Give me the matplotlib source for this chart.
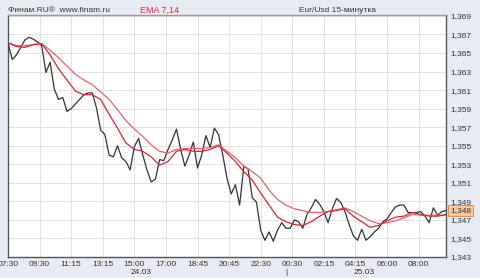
import matplotlib
matplotlib.use("Agg")
import matplotlib.pyplot as plt

OUT_PNG = "out.png"

# close prices, one per 15-minute bar starting 07:30 24.03
close = [
    1.3661, 1.3643, 1.3648, 1.3656, 1.3664, 1.3667, 1.3665, 1.3662, 1.3658, 1.3629,
    1.3640, 1.3611, 1.3600, 1.3602, 1.3587, 1.3590, 1.3595, 1.3600, 1.3605, 1.3607,
    1.3607, 1.3591, 1.3567, 1.3562, 1.3540, 1.3538, 1.3550, 1.3537, 1.3533, 1.3524,
    1.3549, 1.3558, 1.3540, 1.3524, 1.3511, 1.3514, 1.3535, 1.3534, 1.3546, 1.3556,
    1.3568, 1.3546, 1.3528, 1.3540, 1.3554, 1.3526, 1.3540, 1.3561, 1.3548, 1.3569,
    1.3562, 1.3540, 1.3515, 1.3498, 1.3508, 1.3486, 1.3528, 1.3525, 1.3494, 1.3489,
    1.3459, 1.3448, 1.3457, 1.3447, 1.3459, 1.3467, 1.3461, 1.3461, 1.3470, 1.3468,
    1.3461, 1.3476, 1.3483, 1.3492, 1.3487, 1.3479, 1.3467, 1.3482, 1.3493, 1.3489,
    1.3479, 1.3465, 1.3453, 1.3448, 1.3460, 1.3448, 1.3452, 1.3457, 1.3461, 1.3468,
    1.3471, 1.3478, 1.3484, 1.3486, 1.3486, 1.3478, 1.3478, 1.3478, 1.3479, 1.3474,
    1.3467, 1.3483, 1.3475, 1.3479, 1.3480,
]

# moving averages read every 2 bars
ema_idx = list(range(0, 105, 2))
ema7 = [1.3661, 1.3657, 1.3656, 1.3659, 1.3660, 1.3648, 1.3633, 1.3621, 1.3609,
        1.3605, 1.3605, 1.3600, 1.3584, 1.3569, 1.3553, 1.3546, 1.3544, 1.3538,
        1.3529, 1.3533, 1.3544, 1.3546, 1.3544, 1.3544, 1.3546, 1.3550, 1.3542,
        1.3533, 1.3522, 1.3513, 1.3499, 1.3486, 1.3473, 1.3468, 1.3465, 1.3464,
        1.3468, 1.3474, 1.3479, 1.3480, 1.3482, 1.3474, 1.3468, 1.3462, 1.3464,
        1.3469, 1.3473, 1.3474, 1.3478, 1.3476, 1.3474, 1.3474, 1.3476]
ema14 = [1.3661, 1.3658, 1.3658, 1.3659, 1.3660, 1.3653, 1.3645, 1.3636, 1.3627,
         1.3621, 1.3616, 1.3608, 1.3600, 1.3589, 1.3577, 1.3568, 1.3560, 1.3551,
         1.3544, 1.3542, 1.3546, 1.3547, 1.3547, 1.3547, 1.3548, 1.3551, 1.3544,
         1.3537, 1.3528, 1.3522, 1.3515, 1.3502, 1.3492, 1.3486, 1.3482, 1.3480,
         1.3478, 1.3478, 1.3479, 1.3481, 1.3483, 1.3479, 1.3474, 1.3469, 1.3466,
         1.3467, 1.3469, 1.3472, 1.3476, 1.3475, 1.3475, 1.3475, 1.3475]

time_labels = ["07:30", "09:30", "11:15", "13:15", "15:00", "17:00", "18:45",
               "20:45", "22:30", "00:30", "02:15", "04:15", "06:00", "08:00"]
time_ticks = [7.5 * i for i in range(len(time_labels))]
price_ticks = [1.343 + 0.002 * i for i in range(14)]
dates = [("24.03", 31.5), ("25.03", 84.5)]
midnight = 66
last_price = close[-1]

BG = "#e8ebf3"

fig = plt.figure(figsize=(4.8, 2.78), dpi=100, facecolor=BG)
plt.rcParams["font.family"] = ["Liberation Sans", "DejaVu Sans"]
ax = fig.add_axes([8 / 480, 21 / 278, 438 / 480, 242 / 278])
ax.set_facecolor("white")

ax.plot(range(len(close)), close, color="#333333", lw=0.9, zorder=3)
ax.plot(ema_idx, ema14, color="#e8606e", lw=0.9, zorder=4)
ax.plot(ema_idx, ema7, color="#dd2430", lw=0.9, zorder=4)

ax.set_xlim(0, 104)
ax.set_ylim(1.343, 1.3691)
ax.set_xticks(time_ticks)
ax.set_xticklabels(time_labels, fontsize=6, color="#333333")
ax.set_yticks(price_ticks)
ax.set_yticklabels([f"{v:.3f}".replace(".", ",") for v in price_ticks],
                   fontsize=6, color="#333333")
ax.yaxis.tick_right()
ax.tick_params(axis="both", length=0, pad=3)
ax.grid(True, color="#e2e2e2", lw=0.7, zorder=0)

for side in ["left", "right", "bottom", "top"]:
    ax.spines[side].set_color("#555555")
    ax.spines[side].set_linewidth(1.0)
ax.spines["top"].set_color("#999999")

for label, pos in dates:
    ax.annotate(label, xy=(pos, 0), xycoords=("data", "axes fraction"),
                xytext=(0, -11.5), textcoords="offset points",
                ha="center", va="center", fontsize=6, color="#333333")
ax.annotate("|", xy=(midnight, 0), xycoords=("data", "axes fraction"),
            xytext=(0, -11.5), textcoords="offset points",
            ha="center", va="center", fontsize=6, color="#333333")

ax.annotate(f"{last_price:.3f}".replace(".", ","), xy=(1, last_price),
            xycoords=("axes fraction", "data"), xytext=(3, 0),
            textcoords="offset points", ha="left", va="center",
            fontsize=6, color="#333333",
            bbox=dict(boxstyle="square,pad=0.25", fc="#fbc79b", ec="#e08c50", lw=0.7))

fig.text(8 / 480, 1 - 10 / 278, "Финам.RU®  www.finam.ru", fontsize=6,
         color="#333333", va="center", ha="left")
fig.text(159 / 480, 1 - 10 / 278, "EMA 7,14", fontsize=6.5, color="#dd2430",
         va="center", ha="center")
fig.text(337 / 480, 1 - 10 / 278, "Eur/Usd 15-минутка", fontsize=6,
         color="#333333", va="center", ha="center")

fig.savefig(OUT_PNG, dpi=100, facecolor=BG)
plt.close(fig)
